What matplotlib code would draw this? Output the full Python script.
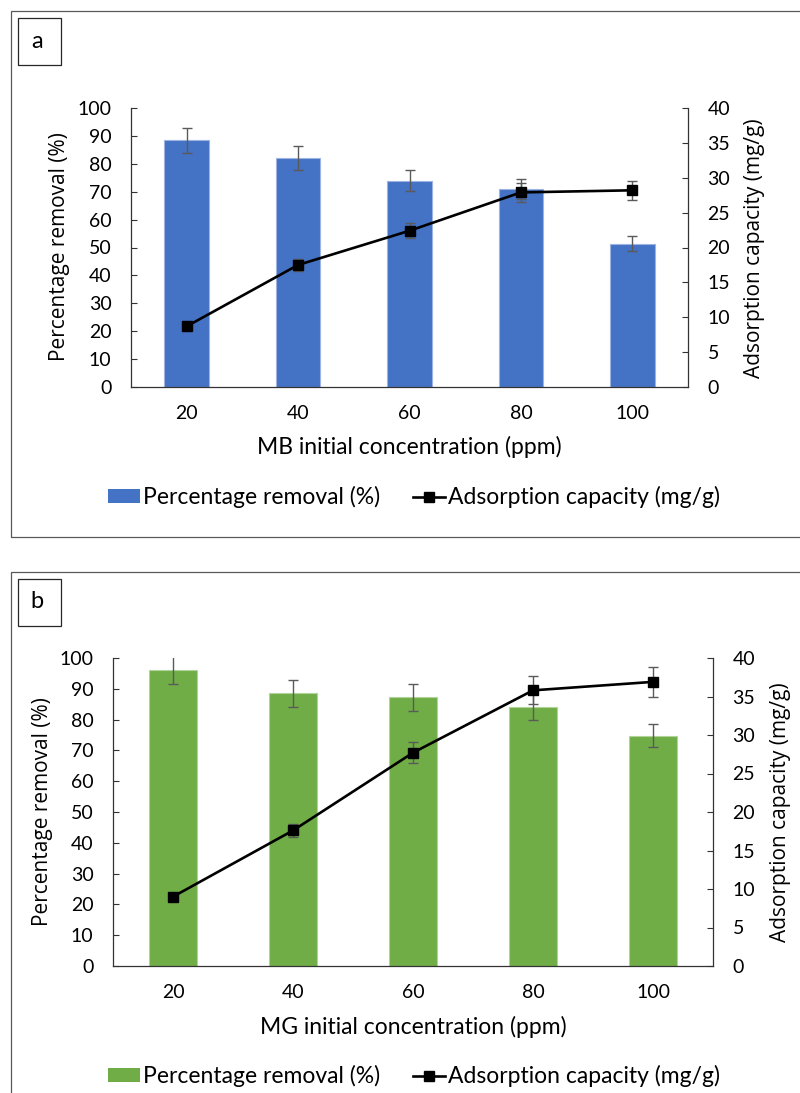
import matplotlib
matplotlib.use("Agg")
import matplotlib.pyplot as plt
from matplotlib.patches import Rectangle, Patch
from matplotlib.lines import Line2D

plt.rcParams['font.family'] = ['Lato', 'DejaVu Sans']

# data
conc = ['20', '40', '60', '80', '100']

mb_removal = [88.5, 82.1, 74.0, 71.0, 51.4]
mb_removal_err = [4.5, 4.2, 3.7, 3.6, 2.6]
mb_capacity = [8.7, 17.5, 22.4, 27.9, 28.2]
mb_capacity_err = [0.3, 0.9, 1.1, 1.4, 1.4]

mg_removal = [96.0, 88.6, 87.3, 84.0, 74.8]
mg_removal_err = [4.6, 4.4, 4.4, 4.2, 3.8]
mg_capacity = [9.0, 17.6, 27.7, 35.8, 36.9]
mg_capacity_err = [0.3, 0.9, 1.4, 1.8, 1.9]

W, H = 800, 1093
fig = plt.figure(figsize=(W / 100, H / 100), dpi=100)

AXC = '#333333'
ERRC = '#5a5a5a'


def px_rect(l, t, r, b):
    return [l / W, (H - b) / H, (r - l) / W, (b - t) / H]


def panel(rect, removal, rerr, cap, cerr, color, edge, xlab, ylab_pos, yrlab_pos, xlab_y, leg_xy):
    ax = fig.add_axes(rect)
    ax2 = ax.twinx()
    x = [i + 0.5 for i in range(len(conc))]

    ax.bar(x, removal, width=0.4, color=color, edgecolor=edge, linewidth=0.8, zorder=2)
    ax.errorbar(x, removal, yerr=rerr, fmt='none', ecolor=ERRC, elinewidth=1.0,
                capsize=3.5, capthick=1.0, zorder=3)
    ax2.errorbar(x, cap, yerr=cerr, fmt='none', ecolor=ERRC, elinewidth=1.0,
                 capsize=3.5, capthick=1.0, zorder=2)
    ax2.plot(x, cap, color='black', lw=1.9, marker='s', ms=6.5, zorder=3)

    ax.set_xlim(0, 5)
    ax.set_ylim(0, 100)
    ax2.set_ylim(0, 40)
    ax.set_xticks(x)
    ax.set_xticklabels(conc)
    ax.set_yticks(range(0, 101, 10))
    ax2.set_yticks(range(0, 41, 5))

    for a in (ax, ax2):
        a.spines['top'].set_visible(False)
        for s in a.spines.values():
            s.set_color(AXC)
            s.set_linewidth(0.9)
    ax2.spines['left'].set_visible(False)
    ax2.spines['bottom'].set_visible(False)
    ax.spines['right'].set_visible(False)

    ax.tick_params(axis='y', direction='in', length=4.3, width=0.8, color=AXC,
                   labelsize=14, pad=14)
    ax.tick_params(axis='x', direction='in', length=3.6, width=0.8, color=AXC,
                   labelsize=14, pad=13)
    ax2.tick_params(axis='y', direction='in', length=4.3, width=0.8, color=AXC,
                    labelsize=14, pad=14)

    ax.text(ylab_pos[0], ylab_pos[1], 'Percentage removal (%)', transform=ax.transAxes,
            rotation=90, ha='center', va='center', fontsize=15, family='Open Sans')
    ax.text(yrlab_pos[0], yrlab_pos[1], 'Adsorption capacity (mg/g)', transform=ax.transAxes,
            rotation=90, ha='center', va='center', fontsize=15, family='Open Sans')
    ax.text(0.5, xlab_y, xlab, transform=ax.transAxes, ha='center', va='center',
            fontsize=16.5)

    handles = [Patch(facecolor=color, edgecolor='none'),
               Line2D([], [], color='black', lw=1.9, marker='s', ms=6.5)]
    fig.legend(handles, ['Percentage removal (%)', 'Adsorption capacity (mg/g)'],
               loc='center', bbox_to_anchor=(leg_xy[0] / W, 1 - leg_xy[1] / H),
               ncol=2, frameon=False, fontsize=16.5, handlelength=1.4,
               handleheight=0.55, handletextpad=0.15, columnspacing=1.4,
               borderaxespad=0, borderpad=0)
    return ax


panel(px_rect(131, 108, 688, 387), mb_removal, mb_removal_err, mb_capacity, mb_capacity_err,
      '#4472C4', '#9db4e2', 'MB initial concentration (ppm)',
      (-0.129, 0.502), (1.1185, 0.498), -0.215, (414, 497))
panel(px_rect(113, 658, 713, 966), mg_removal, mg_removal_err, mg_capacity, mg_capacity_err,
      '#70AD47', '#b2d49b', 'MG initial concentration (ppm)',
      (-0.1167, 0.5), (1.113, 0.5), -0.198, (414, 1076))

# panel frames
fig.add_artist(Rectangle((11 / W, (H - 537) / H), (805 - 11) / W, (537 - 11) / H,
                         transform=fig.transFigure, fill=False, edgecolor='#595959', lw=0.9))
fig.add_artist(Rectangle((11 / W, -0.02), (805 - 11) / W, (H - 572) / H + 0.02,
                         transform=fig.transFigure, fill=False, edgecolor='#595959', lw=0.9))

# panel letters
for letter, top in (('a', 18), ('b', 579)):
    fig.add_artist(Rectangle((18 / W, (H - top - 47) / H), 43 / W, 47 / H,
                             transform=fig.transFigure, fill=False, edgecolor='#262626', lw=0.9))
    fig.text(37 / W, 1 - (top + 23) / H, letter, ha='center', va='center', fontsize=17)

fig.savefig('out.png', dpi=100)
